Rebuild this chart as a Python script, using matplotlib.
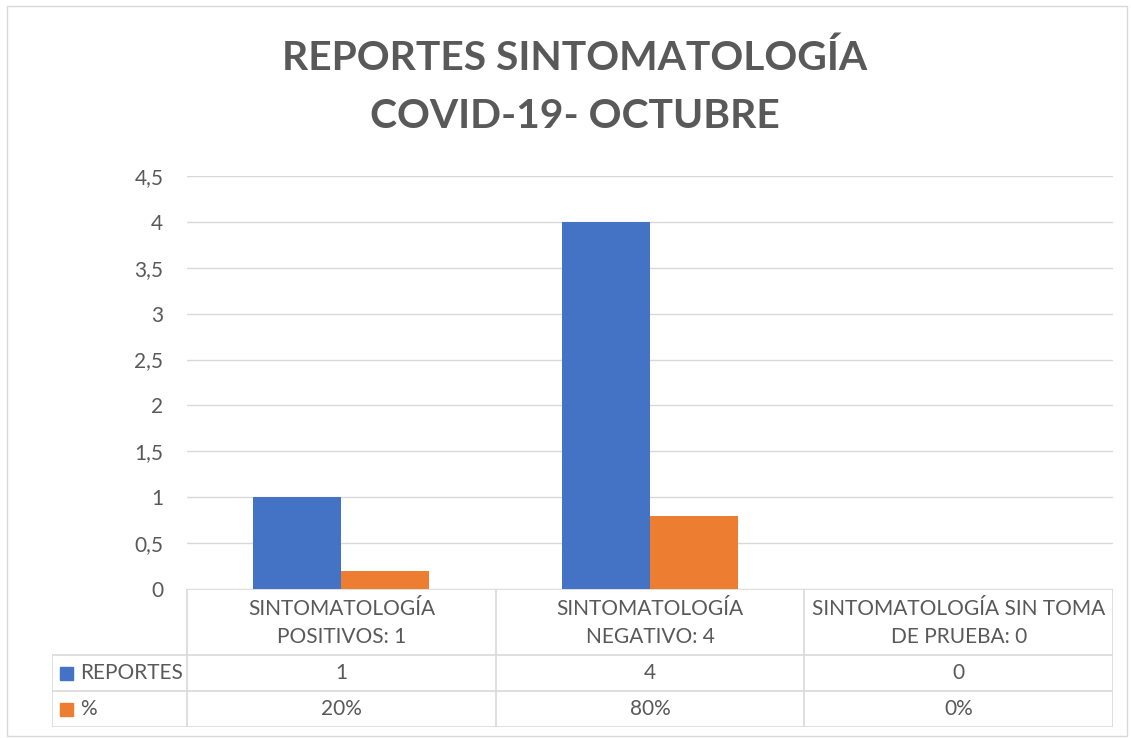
import matplotlib
matplotlib.use("Agg")
import matplotlib.pyplot as plt
from matplotlib.patches import Rectangle

# Datos del gráfico
categorias = ["SINTOMATOLOGÍA\nPOSITIVOS: 1", "SINTOMATOLOGÍA\nNEGATIVO: 4",
              "SINTOMATOLOGÍA SIN TOMA\nDE PRUEBA: 0"]
reportes = [1, 4, 0]
porcentaje = [0.2, 0.8, 0.0]
series = ["REPORTES", "%"]
reportes_txt = ["1", "4", "0"]
porcentaje_txt = ["20%", "80%", "0%"]
y_ticks = [0, 0.5, 1, 1.5, 2, 2.5, 3, 3.5, 4, 4.5]

azul = "#4472C4"
naranja = "#ED7D31"
gris = "#595959"
linea = "#D9D9D9"

plt.rcParams['font.family'] = ['Lato', 'DejaVu Sans']
fs = 15

W, H = 1131, 738
fig = plt.figure(figsize=(W / 100, H / 100), dpi=100)

# borde del gráfico
fig.add_artist(Rectangle((7 / W, 2 / H), 1120 / W, 730 / H, transform=fig.transFigure,
                         fill=False, edgecolor=linea, lw=1))

# --- area de barras ---
x0, x1 = 187, 1113
y0, y1 = 589, 176
ax = fig.add_axes([x0 / W, (H - y0) / H, (x1 - x0) / W, (y0 - y1) / H])
n = len(categorias)
xs = range(n)
bw = 0.285
ax.bar([x - bw / 2 for x in xs], reportes, width=bw, color=azul, zorder=3)
ax.bar([x + bw / 2 for x in xs], porcentaje, width=bw, color=naranja, zorder=3)
ax.set_xlim(-0.5, n - 0.5)
ax.set_ylim(0, 4.5)
ax.set_yticks(y_ticks)
ax.set_yticklabels([f"{t:g}".replace(".", ",") for t in y_ticks], color=gris, fontsize=fs)
ax.tick_params(axis="y", length=0, pad=17)
ax.set_xticks([])
ax.grid(axis="y", color=linea, lw=1, zorder=0)
for s in ax.spines.values():
    s.set_visible(False)

# --- tabla de datos ---
t_left = 52
t_bot = 727
left_units = (x0 - t_left) / ((x1 - x0) / n)
tab = fig.add_axes([t_left / W, (H - t_bot) / H, (x1 - t_left) / W, (t_bot - y0) / H])
tab.set_xlim(-0.5 - left_units, n - 0.5)
tab.set_ylim(0, 138)
tab.axis("off")
rows = [0, 36, 72, 138]
kw = dict(color=linea, lw=1.2)
tab.plot([-0.5, n - 0.5], [138, 138], **kw)
for r in rows[:3]:
    tab.plot([-0.5 - left_units, n - 0.5], [r, r], **kw)
for i in range(n + 1):
    tab.plot([i - 0.5, i - 0.5], [0, 138], **kw)
tab.plot([-0.5 - left_units] * 2, [0, 72], **kw)

for i, cat in enumerate(categorias):
    tab.text(i, 104, cat, ha="center", va="center", color=gris, fontsize=fs, linespacing=1.5)
    tab.text(i, 54, reportes_txt[i], ha="center", va="center", color=gris, fontsize=fs)
    tab.text(i, 18, porcentaje_txt[i], ha="center", va="center", color=gris, fontsize=fs)

for k, (nom, col) in enumerate(zip(series, [azul, naranja])):
    yc = 54 - 36 * k
    tab.add_patch(Rectangle((-0.5 - left_units + 0.026, yc - 6.5), 0.042, 13, color=col))
    tab.text(-0.5 - left_units + 0.09, yc, nom, ha="left", va="center", color=gris, fontsize=fs)

xc = 574.5 / W
fig.text(xc, (H - 58) / H, "REPORTES SINTOMATOLOGÍA", ha="center", va="center",
         color=gris, fontsize=29.3, fontweight="bold")
fig.text(xc, (H - 117) / H, "COVID-19- OCTUBRE", ha="center", va="center",
         color=gris, fontsize=29.3, fontweight="bold")

fig.savefig("out.png", dpi=100)
